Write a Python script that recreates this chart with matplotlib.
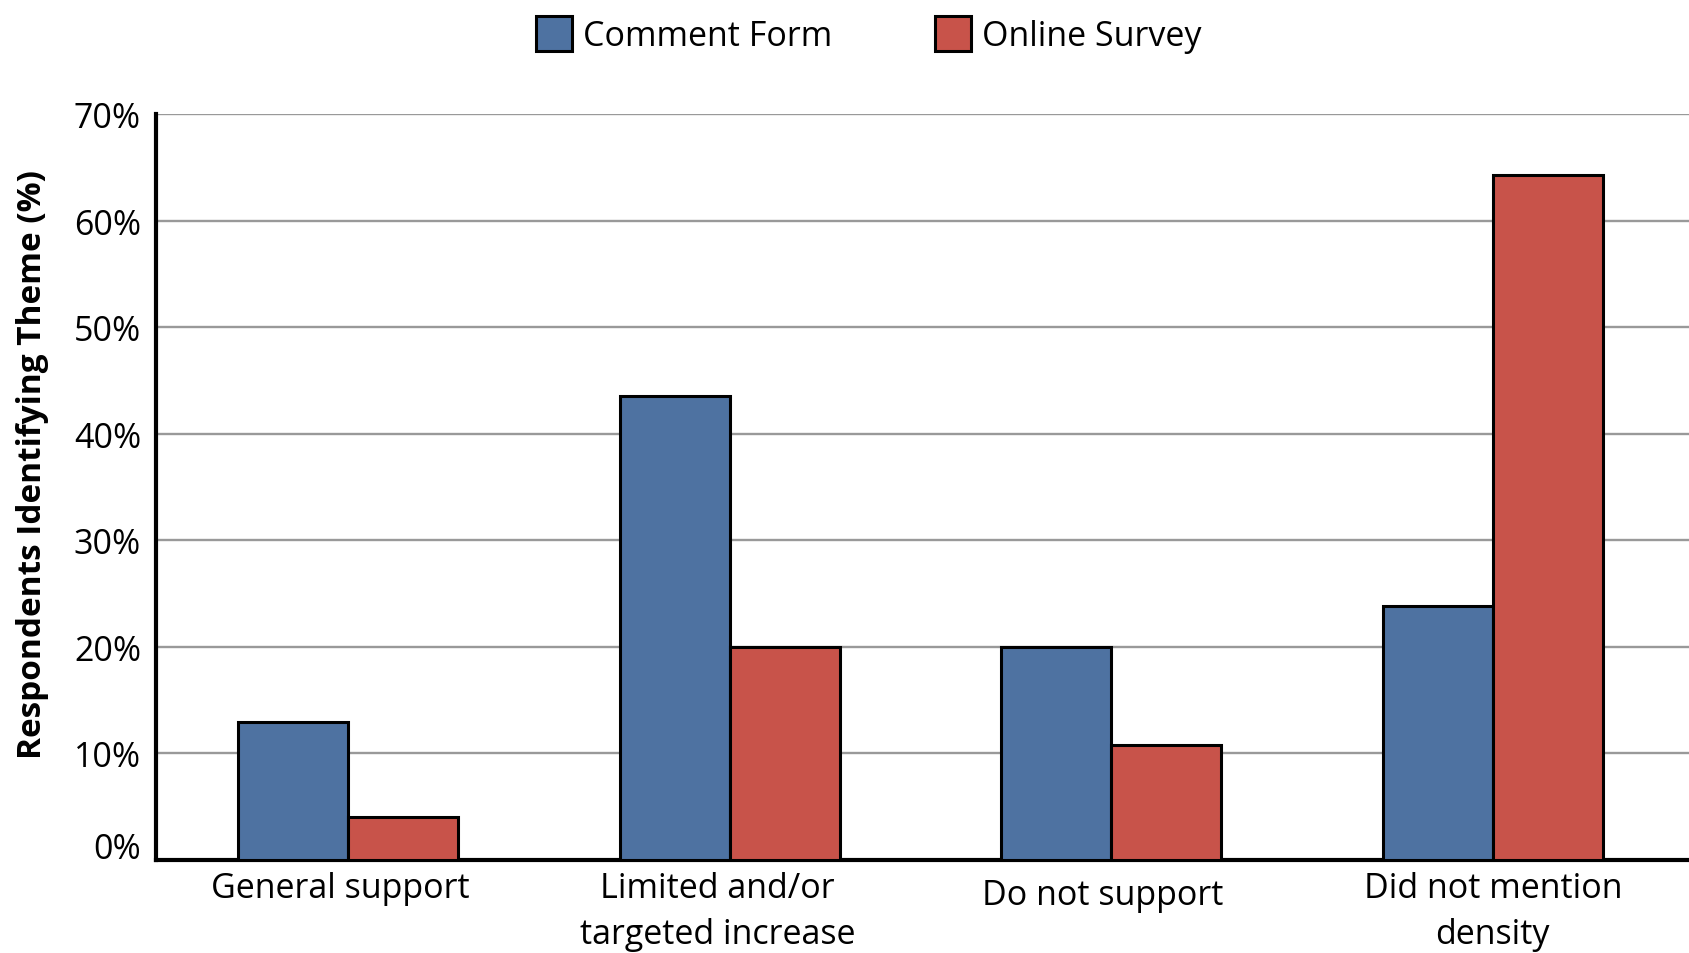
import numpy as np
import matplotlib
matplotlib.use("Agg")
import matplotlib.pyplot as plt
from matplotlib.transforms import ScaledTranslation

plt.rcParams["font.family"] = ["Open Sans", "DejaVu Sans"]

categories = ["General support", "Limited and/or\ntargeted increase", "Do not support", "Did not mention\ndensity"]
comment_form = [13.0, 43.6, 20.0, 23.8]
online_survey = [4.0, 20.0, 10.8, 64.3]
yticks = [0, 10, 20, 30, 40, 50, 60, 70]
ytick_labels = [f"{t}%" for t in yticks]

BLUE = "#4E72A1"
RED = "#C8534A"
W = 0.288
FS = 24.5

fig = plt.figure(figsize=(16.9, 9.54), dpi=100)
ax = fig.add_axes([0.0925, 0.0975, 0.9075, 0.7815])

x = np.arange(len(categories))
b1 = ax.bar(x - W / 2, comment_form, W, color=BLUE, edgecolor="black", lw=2.2, zorder=3, label="Comment Form")
b2 = ax.bar(x + W / 2, online_survey, W, color=RED, edgecolor="black", lw=2.2, zorder=3, label="Online Survey")

ax.set_xlim(-0.503, 3.517)
ax.set_ylim(0, 70)
ax.set_yticks(yticks)
ax.set_yticklabels(ytick_labels, fontsize=FS)
ax.set_xticks(x)
ax.set_xticklabels(categories, fontsize=FS, linespacing=1.45)
ax.tick_params(axis="both", length=0)
ax.tick_params(axis="y", pad=11)
ax.tick_params(axis="x", pad=8)
ax.yaxis.grid(True, color="#999999", lw=1.7, zorder=0)
ax.set_axisbelow(True)

for s in ["top", "right"]:
    ax.spines[s].set_visible(False)
ax.spines["left"].set_linewidth(3.0)
ax.spines["bottom"].set_linewidth(3.0)

# the 0% label sits a bit above the axis line in the original
lbl0 = ax.get_yticklabels()[0]
lbl0.set_transform(lbl0.get_transform() + ScaledTranslation(0, 0.15, fig.dpi_scale_trans))
# category labels are nudged a little off the bar-pair centres in the original
nudges = [(-0.08, 0.0), (-0.12, 0.0), (-0.09, -0.07), (0.0, 0.0)]
for lbl, (dx, dy) in zip(ax.get_xticklabels(), nudges):
    lbl.set_transform(lbl.get_transform() + ScaledTranslation(dx, dy, fig.dpi_scale_trans))

ax.set_ylabel("Respondents Identifying Theme (%)", fontsize=24, fontweight="bold")
ax.yaxis.set_label_coords(-0.070, 0.532)

fig.legend(handles=[b1, b2], loc="center", bbox_to_anchor=(0.514, 0.963), ncol=2, frameon=False,
           fontsize=FS, handlelength=1.08, handleheight=1.2, handletextpad=0.32, columnspacing=3.0)

fig.savefig("out.png", dpi=100)
